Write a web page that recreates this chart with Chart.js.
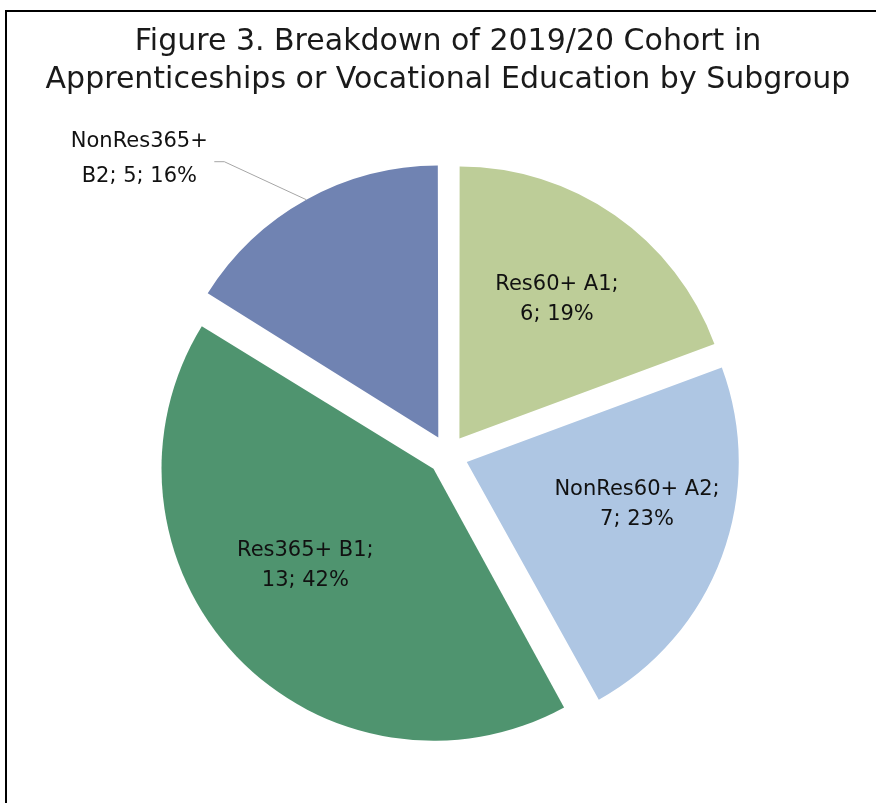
<!DOCTYPE html>
<html>
<head>
<meta charset="utf-8">
<script src="https://cdn.jsdelivr.net/npm/chart.js@4"></script>
<style>
  html, body { margin: 0; padding: 0; background: #fff; overflow: hidden; }
  #frame {
    position: absolute; left: 5px; top: 10px; width: 2000px; height: 2000px;
    border-left: 2px solid #000; border-top: 2px solid #000;
  }
  #c { position: absolute; left: 0; top: 0; }
</style>
</head>
<body>
<div id="frame"></div>
<canvas id="c" width="876" height="803"></canvas>
<script>
// Subgroups (clockwise from 12 o'clock)
const categories = ['Res60+ A1', 'NonRes60+ A2', 'Res365+ B1', 'NonRes365+ B2'];
const counts = [6, 7, 13, 5];
const sliceColors = ['#bdcd98', '#aec6e3', '#4f946f', '#7083b2'];

const EXPLODE = 20;   // visual shift of each slice in px
const RADIUS = 272;

// Label placement: angle (deg clockwise from top) and fraction of radius
const labelSpots = [
  { angle: 35, frac: 0.625 },
  { angle: 104, frac: 0.645 },
  { angle: 233, frac: 0.59 },
  { outside: true }
];

const total = counts.reduce((a, b) => a + b, 0);

// keep all slices same radius (Chart.js grows wide slices when offset is used)
const evenRadius = {
  id: 'evenRadius',
  beforeDatasetsDraw(chart) {
    const meta = chart.getDatasetMeta(0);
    meta.data.forEach(el => {
      const c = el.endAngle - el.startAngle;
      const fix = 1 - Math.sin(Math.min(Math.PI, c));
      el.outerRadius = RADIUS - EXPLODE * fix;
    });
  }
};

const sliceLabels = {
  id: 'sliceLabels',
  afterDatasetsDraw(chart) {
    const ctx = chart.ctx;
    const meta = chart.getDatasetMeta(0);
    ctx.save();
    ctx.font = '21px "DejaVu Sans"';
    ctx.fillStyle = '#111';
    ctx.textAlign = 'center';
    ctx.textBaseline = 'middle';
    meta.data.forEach((el, i) => {
      const mid = (el.startAngle + el.endAngle) / 2;
      const cx = el.x + Math.cos(mid) * EXPLODE;
      const cy = el.y + Math.sin(mid) * EXPLODE;
      const pct = Math.round(counts[i] / total * 100) + '%';
      const spot = labelSpots[i];
      if (!spot.outside) {
        const a = (spot.angle - 90) * Math.PI / 180;
        const r = RADIUS * spot.frac;
        const lx = cx + Math.cos(a) * r;
        const ly = cy + Math.sin(a) * r;
        ctx.fillText(categories[i] + ';', lx, ly - 15);
        ctx.fillText(counts[i] + '; ' + pct, lx, ly + 15);
      } else {
        // leader line from the slice edge
        const x0 = cx + Math.cos(mid) * RADIUS;
        const y0 = cy + Math.sin(mid) * RADIUS;
        const x1 = x0 - 82, y1 = y0 - 38;
        const x2 = x1 - 10;
        ctx.strokeStyle = '#a6a6a6';
        ctx.lineWidth = 1;
        ctx.beginPath();
        ctx.moveTo(x0, y0);
        ctx.lineTo(x1, y1);
        ctx.lineTo(x2, y1);
        ctx.stroke();
        const parts = categories[i].split(' ');
        const tx = x2 - 75;
        ctx.fillText(parts[0], tx, y1 - 20);
        ctx.fillText(parts[1] + '; ' + counts[i] + '; ' + pct, tx, y1 + 15);
      }
    });
    ctx.restore();
  }
};

new Chart(document.getElementById('c'), {
  type: 'pie',
  data: {
    labels: categories,
    datasets: [{
      data: counts,
      backgroundColor: sliceColors,
      borderWidth: 0,
      offset: EXPLODE * 4,
      hoverOffset: 0
    }]
  },
  options: {
    responsive: false,
    animation: false,
    radius: RADIUS,
    layout: { padding: { left: 20, right: 0, top: 0, bottom: 13 } },
    plugins: {
      legend: { display: false },
      tooltip: { enabled: false },
      title: {
        display: true,
        text: ['Figure 3. Breakdown of 2019/20 Cohort in',
               'Apprenticeships or Vocational Education by Subgroup'],
        color: '#1a1a1a',
        font: { family: '"DejaVu Sans"', size: 30, weight: 'normal', lineHeight: 38 / 30 },
        padding: { top: 23, bottom: 21 }
      }
    }
  },
  plugins: [evenRadius, sliceLabels]
});
</script>
</body>
</html>
